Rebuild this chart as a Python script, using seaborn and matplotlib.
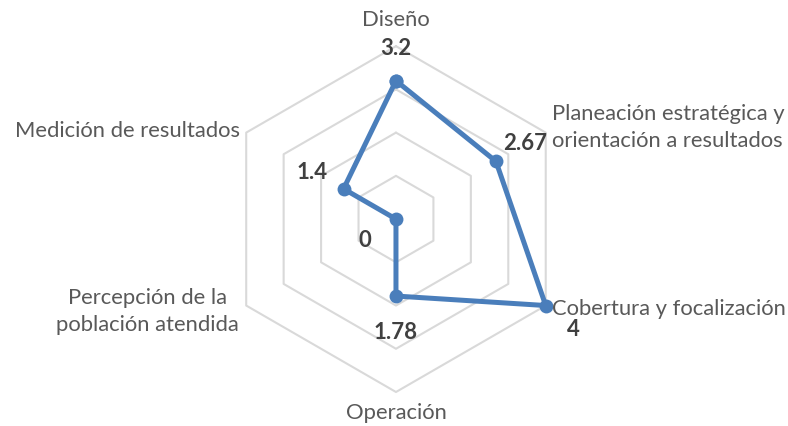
import numpy as np
import matplotlib
matplotlib.use("Agg")
import matplotlib.pyplot as plt
import seaborn as sns

categories = ["Diseño", "Planeación estratégica y\norientación a resultados",
              "Cobertura y focalización", "Operación",
              "Percepción de la\npoblación atendida", "Medición de resultados"]
values = [3.2, 2.67, 4, 1.78, 0, 1.4]
value_labels = ["3.2", "2.67", "4", "1.78", "0", "1.4"]
grid_levels = [1, 2, 3, 4]

sns.set_theme(style="white")
plt.rcParams['font.family'] = ['Lato', 'DejaVu Sans']

fig = plt.figure(figsize=(7.88, 4.27), dpi=100)
ax = fig.add_axes([0.283, 0.0796, 0.439, 0.810], projection='polar')
ax.set_theta_offset(np.pi / 2)
ax.set_theta_direction(-1)

n = len(categories)
angles = [2 * np.pi * i / n for i in range(n)]
closed_angles = angles + [2 * np.pi]

# hexagon grid (no circles, no spokes)
for lev in grid_levels:
    ax.plot(closed_angles, [lev] * (n + 1), color="#D9D9D9", lw=1.5,
            zorder=1, clip_on=False)

sns.lineplot(x=closed_angles, y=values + values[:1], sort=False, ax=ax,
             color="#4A7EBB", lw=3.6, marker='o', markersize=10,
             markeredgewidth=0, zorder=3)
ax.lines[-1].set_solid_joinstyle('round')
ax.lines[-1].set_clip_on(False)

ax.set_ylim(0, 4)
ax.grid(False)
ax.set_xticks([])
ax.set_yticks([])
ax.spines['polar'].set_visible(False)
ax.set_xlabel("")
ax.set_ylabel("")

# value labels (offsets in pixels)
val_offsets = [(0, 33), (29, 19), (28, -23), (0, -35), (-31, -20), (-31, 17)]
for a, v, lab, off in zip(angles, values, value_labels, val_offsets):
    ax.annotate(lab, (a, v), xytext=off, textcoords='offset pixels',
                ha='center', va='center', fontsize=16, fontweight='bold',
                color="#404040", zorder=4)

# category labels placed around outer vertices
cat_style = [((0, 27), 'center'), ((6, 6), 'left'), ((6, -2), 'left'),
             ((0, -20), 'center'), ((-99, -5), 'center'), ((-6, 3), 'right')]
for a, cat, (off, ha) in zip(angles, categories, cat_style):
    ax.annotate(cat, (a, grid_levels[-1]), xytext=off, textcoords='offset pixels',
                ha=ha, va='center', multialignment=ha, fontsize=15.8,
                color="#595959", linespacing=1.4, annotation_clip=False)

fig.savefig("out.png", dpi=100)
